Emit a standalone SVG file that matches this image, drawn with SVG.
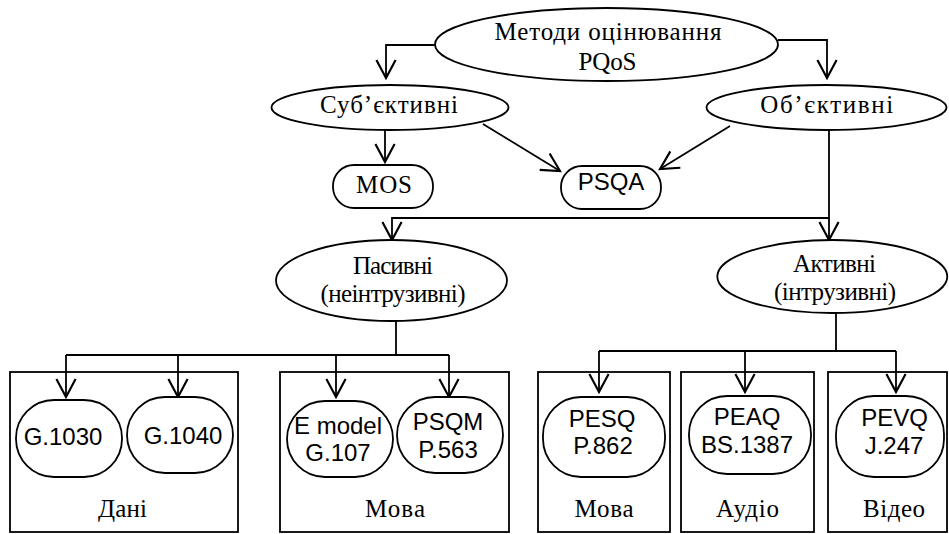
<svg xmlns="http://www.w3.org/2000/svg" width="949" height="534" viewBox="0 0 949 534">
<style>
.s{fill:#fff;stroke:#000;stroke-width:1.8}
.b{fill:none;stroke:#000;stroke-width:1.8}
.c{fill:none;stroke:#000;stroke-width:1.8}
.t{font-family:"Liberation Serif","Times New Roman",serif;font-size:25px;fill:#000;text-anchor:middle}
.a{font-family:"Liberation Sans",Arial,sans-serif;font-size:24px;fill:#000;text-anchor:middle}
</style>
<defs>
<marker id="ar" markerUnits="userSpaceOnUse" markerWidth="24" markerHeight="24" viewBox="-18 -10 20 20" refX="0" refY="0" orient="auto">
<path d="M-15,-8 L0,0 L-15,8" fill="none" stroke="#000" stroke-width="1.8"/>
</marker>
</defs>
<rect width="949" height="534" fill="#fff"/>
<g id="connectors">
<path class="c" d="M435,45 H386 V78" marker-end="url(#ar)"/>
<path class="c" d="M778,40 H827 V78" marker-end="url(#ar)"/>
<path class="c" d="M385,130 V162" marker-end="url(#ar)"/>
<path class="c" d="M483,124 L560,171" marker-end="url(#ar)"/>
<path class="c" d="M730,126 L660,169" marker-end="url(#ar)"/>
<path class="c" d="M829,130 V218 H392 V240" marker-end="url(#ar)"/>
<path class="c" d="M829,218 V240" marker-end="url(#ar)"/>
<path class="c" d="M396,321 V355"/>
<path class="c" d="M66,355 H449"/>
<path class="c" d="M66,355 V397" marker-end="url(#ar)"/>
<path class="c" d="M178,355 V397" marker-end="url(#ar)"/>
<path class="c" d="M336,355 V397" marker-end="url(#ar)"/>
<path class="c" d="M449,355 V397" marker-end="url(#ar)"/>
<path class="c" d="M836,313 V351"/>
<path class="c" d="M599,351 H896"/>
<path class="c" d="M599,351 V392" marker-end="url(#ar)"/>
<path class="c" d="M745,351 V392" marker-end="url(#ar)"/>
<path class="c" d="M896,351 V392" marker-end="url(#ar)"/>
</g>
<g id="root">
<ellipse class="s" cx="606.5" cy="44.5" rx="171.5" ry="36.5"/>
<text class="t" x="608" y="40" textLength="227" lengthAdjust="spacing">Методи оцінювання</text>
<text class="t" x="607.5" y="70" textLength="58" lengthAdjust="spacing">PQoS</text>
</g>
<g id="subjective">
<ellipse class="s" cx="390" cy="107.5" rx="118.5" ry="22.5"/>
<text class="t" x="389" y="112.5" textLength="138" lengthAdjust="spacing">Суб’єктивні</text>
</g>
<g id="objective">
<ellipse class="s" cx="826.5" cy="107.5" rx="120" ry="22.5"/>
<text class="t" x="826.7" y="112.5" textLength="133" lengthAdjust="spacing">Об’єктивні</text>
</g>
<g id="mos">
<rect class="s" x="333" y="165" width="100" height="43" rx="21" ry="21"/>
<text class="t" x="384" y="193" textLength="56" lengthAdjust="spacing">MOS</text>
</g>
<g id="psqa">
<rect class="s" x="561" y="166" width="100" height="43" rx="21" ry="21"/>
<text class="a" x="611" y="190">PSQA</text>
</g>
<g id="passive">
<ellipse class="s" cx="391.5" cy="280.5" rx="115.5" ry="40.5"/>
<text class="t" x="393" y="274" textLength="80" lengthAdjust="spacing">Пасивні</text>
<text class="t" x="393" y="302" textLength="145" lengthAdjust="spacing">(неінтрузивні)</text>
</g>
<g id="active">
<ellipse class="s" cx="832.3" cy="276.5" rx="115" ry="36.5"/>
<text class="t" x="834.5" y="272" textLength="83" lengthAdjust="spacing">Активні</text>
<text class="t" x="835" y="300" textLength="122" lengthAdjust="spacing">(інтрузивні)</text>
</g>
<g id="box-data">
<rect class="b" x="10" y="372" width="228" height="160"/>
<text class="t" x="122.5" y="517" textLength="49" lengthAdjust="spacing">Дані</text>
</g>
<g id="box-speech-passive">
<rect class="b" x="280" y="372" width="229" height="160"/>
<text class="t" x="395" y="517" textLength="60" lengthAdjust="spacing">Мова</text>
</g>
<g id="box-speech-active">
<rect class="b" x="538" y="372" width="132" height="160"/>
<text class="t" x="604" y="517" textLength="59" lengthAdjust="spacing">Мова</text>
</g>
<g id="box-audio">
<rect class="b" x="681" y="372" width="133" height="160"/>
<text class="t" x="747.5" y="517" textLength="63" lengthAdjust="spacing">Аудіо</text>
</g>
<g id="box-video">
<rect class="b" x="828" y="372" width="119" height="160"/>
<text class="t" x="894" y="517" textLength="62" lengthAdjust="spacing">Відео</text>
</g>
<g id="g1030">
<rect class="s" x="16" y="400" width="106" height="77" rx="38" ry="38"/>
<text class="a" x="63" y="445">G.1030</text>
</g>
<g id="g1040">
<rect class="s" x="127" y="397" width="106" height="76" rx="38" ry="38"/>
<text class="a" x="183" y="444">G.1040</text>
</g>
<g id="emodel">
<rect class="s" x="287" y="401" width="106" height="76" rx="38" ry="38"/>
<text class="a" x="338" y="434">E model</text>
<text class="a" x="338" y="461">G.107</text>
</g>
<g id="psqm">
<rect class="s" x="397" y="397" width="106" height="76" rx="38" ry="38"/>
<text class="a" x="448" y="430">PSQM</text>
<text class="a" x="448" y="458">P.563</text>
</g>
<g id="pesq">
<rect class="s" x="543" y="397" width="122" height="80" rx="38" ry="38"/>
<text class="a" x="602" y="427">PESQ</text>
<text class="a" x="603" y="454">P.862</text>
</g>
<g id="peaq">
<rect class="s" x="689" y="396" width="122" height="78" rx="38" ry="38"/>
<text class="a" x="747" y="425">PEAQ</text>
<text class="a" x="747" y="453">BS.1387</text>
</g>
<g id="pevq">
<rect class="s" x="836" y="396" width="108" height="81" rx="38" ry="38"/>
<text class="a" x="894.5" y="426">PEVQ</text>
<text class="a" x="894" y="454">J.247</text>
</g>
</svg>
